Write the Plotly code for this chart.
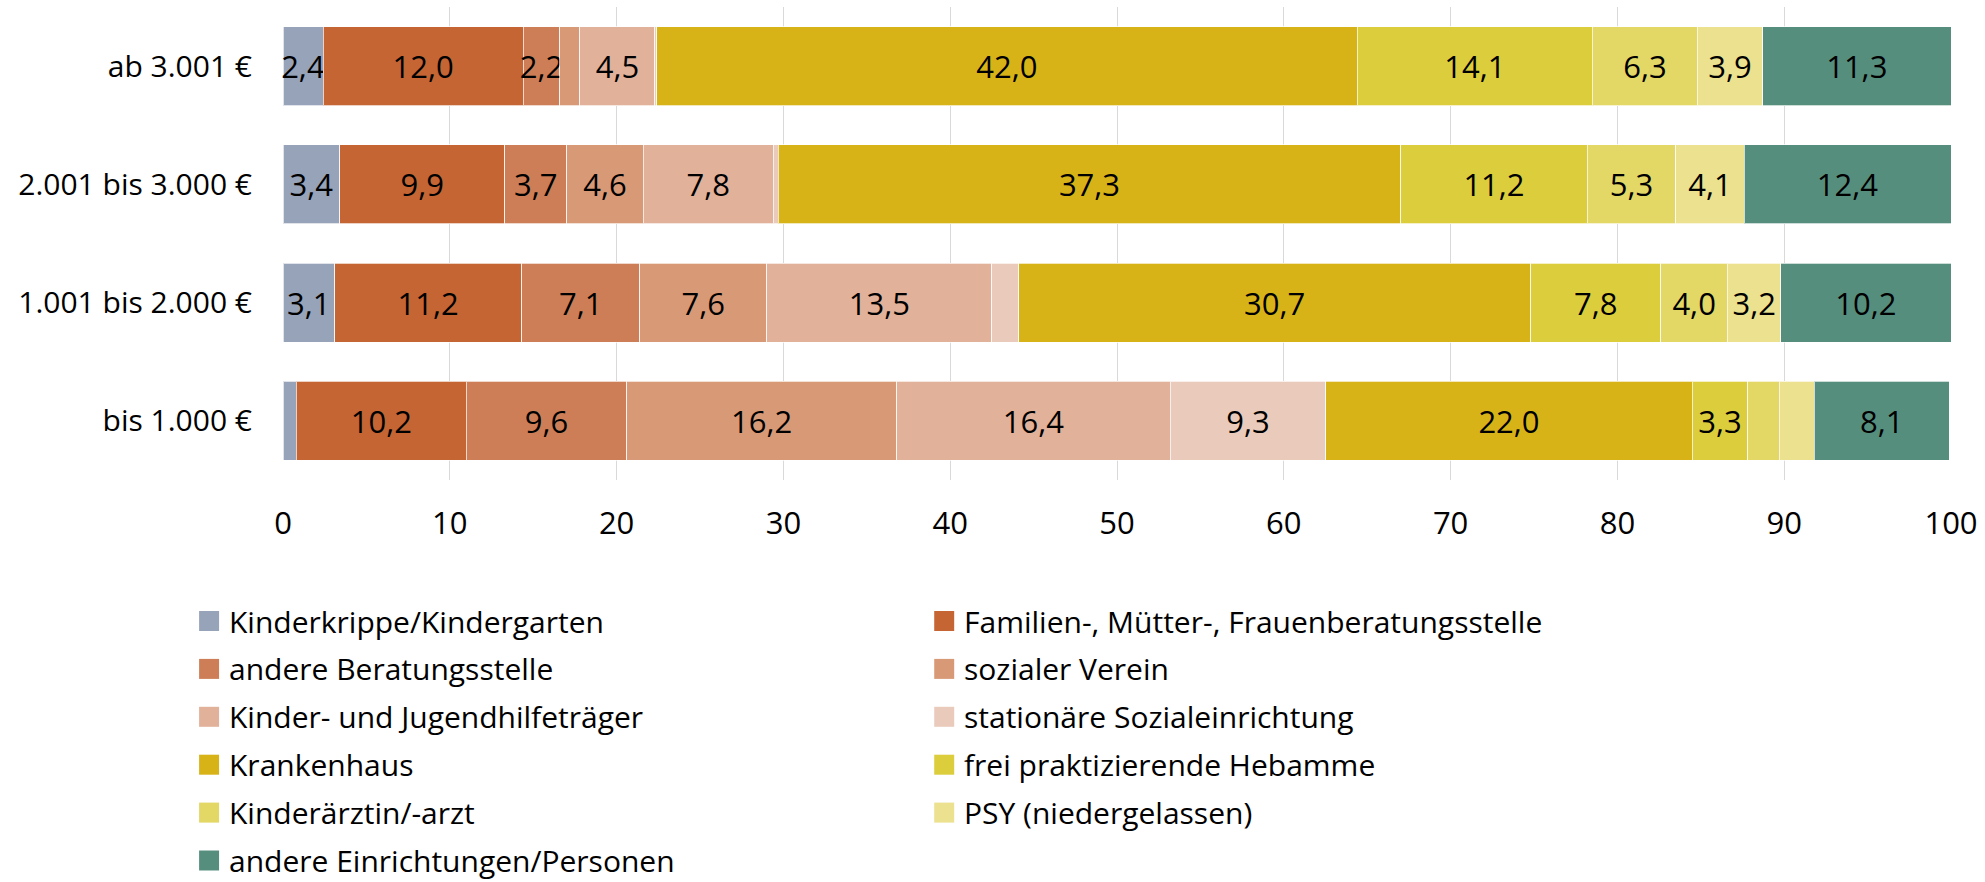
import plotly.graph_objects as go

# ---------------- data ----------------
categories = ["ab 3.001 €", "2.001 bis 3.000 €", "1.001 bis 2.000 €", "bis 1.000 €"]

series_names = [
    "Kinderkrippe/Kindergarten",
    "Familien-, Mütter-, Frauenberatungsstelle",
    "andere Beratungsstelle",
    "sozialer Verein",
    "Kinder- und Jugendhilfeträger",
    "stationäre Sozialeinrichtung",
    "Krankenhaus",
    "frei praktizierende Hebamme",
    "Kinderärztin/-arzt",
    "PSY (niedergelassen)",
    "andere Einrichtungen/Personen",
]

kinderkrippe = [2.4, 3.4, 3.1, 0.8]
familien = [12.0, 9.9, 11.2, 10.2]
andere_beratung = [2.2, 3.7, 7.1, 9.6]
sozialer_verein = [1.2, 4.6, 7.6, 16.2]
jugendhilfe = [4.5, 7.8, 13.5, 16.4]
stationaer = [0.1, 0.3, 1.6, 9.3]
krankenhaus = [42.0, 37.3, 30.7, 22.0]
hebamme = [14.1, 11.2, 7.8, 3.3]
kinderarzt = [6.3, 5.3, 4.0, 1.9]
psy = [3.9, 4.1, 3.2, 2.1]
andere_einr = [11.3, 12.4, 10.2, 8.1]

series_values = [kinderkrippe, familien, andere_beratung, sozialer_verein, jugendhilfe,
                 stationaer, krankenhaus, hebamme, kinderarzt, psy, andere_einr]

colors = ["#97A3B8", "#C46533", "#CD7E56", "#D89977", "#E1B19A", "#EACBBB",
          "#D8B317", "#DCCD3C", "#E3D766", "#EBE18E", "#568E7E"]

x_ticks = [0, 10, 20, 30, 40, 50, 60, 70, 80, 90, 100]
MIN_LABEL = 2.2

# ---------------- layout constants ----------------
W, H = 1985, 882
L, R, T, B = 283, 32, 7, 402
PH = H - T - B
FONT = "Open Sans"

fig = go.Figure()
for name, vals, col in zip(series_names, series_values, colors):
    txt = [f"{v:.1f}".replace(".", ",") if v >= MIN_LABEL else "" for v in vals]
    fig.add_trace(go.Bar(
        y=categories, x=vals, name=name, orientation="h",
        marker=dict(color=col, line=dict(color="rgba(255,255,255,0.7)", width=1)),
        text=txt, textposition="inside", insidetextanchor="middle", textangle=0,
        textfont=dict(family=FONT, size=31, color="#000000"),
        constraintext="none", cliponaxis=False,
        showlegend=False, hoverinfo="name+x",
    ))

# manual legend (two columns, row-major)
col_x = [199, 935]
row_y0, row_step = 621, 47.9
sw = 20
for i, (name, col) in enumerate(zip(series_names, colors)):
    c, r = i % 2, i // 2
    cx = col_x[c]
    cy = row_y0 + r * row_step
    x0 = (cx - L) / (W - L - R)
    x1 = (cx + sw - L) / (W - L - R)
    y0 = (H - B - (cy + sw / 2)) / PH
    y1 = (H - B - (cy - sw / 2)) / PH
    fig.add_shape(type="rect", xref="paper", yref="paper", x0=x0, x1=x1, y0=y0, y1=y1,
                  fillcolor=col, line=dict(width=0))
    fig.add_annotation(xref="paper", yref="paper", x=(cx + sw + 8 - L) / (W - L - R),
                       y=(H - B - cy) / PH, text=name, showarrow=False,
                       xanchor="left", yanchor="middle",
                       font=dict(family=FONT, size=30, color="#000000"))

fig.update_layout(
    width=W, height=H,
    margin=dict(l=L, r=R, t=T, b=B, pad=0),
    barmode="stack", bargap=0.332,
    plot_bgcolor="white", paper_bgcolor="white",
    separators=",.",
    font=dict(family=FONT, color="#000000"),
    uniformtext=dict(minsize=31, mode="show"),
    showlegend=False,
)
fig.update_xaxes(range=[0, 100], tickvals=x_ticks, showgrid=True, gridcolor="#D9D9D9",
                 gridwidth=1, zeroline=False, showline=False, ticks="",
                 ticklabelstandoff=22, tickfont=dict(family=FONT, size=31, color="#000000"))
fig.update_yaxes(autorange="reversed", showgrid=False, zeroline=False, showline=False,
                 ticks="", ticklabelstandoff=30, tickfont=dict(family=FONT, size=30, color="#000000"))

fig.write_html("out.html", config={"displayModeBar": False},
               post_script="document.body.style.margin='0';document.body.style.overflow='hidden';")
